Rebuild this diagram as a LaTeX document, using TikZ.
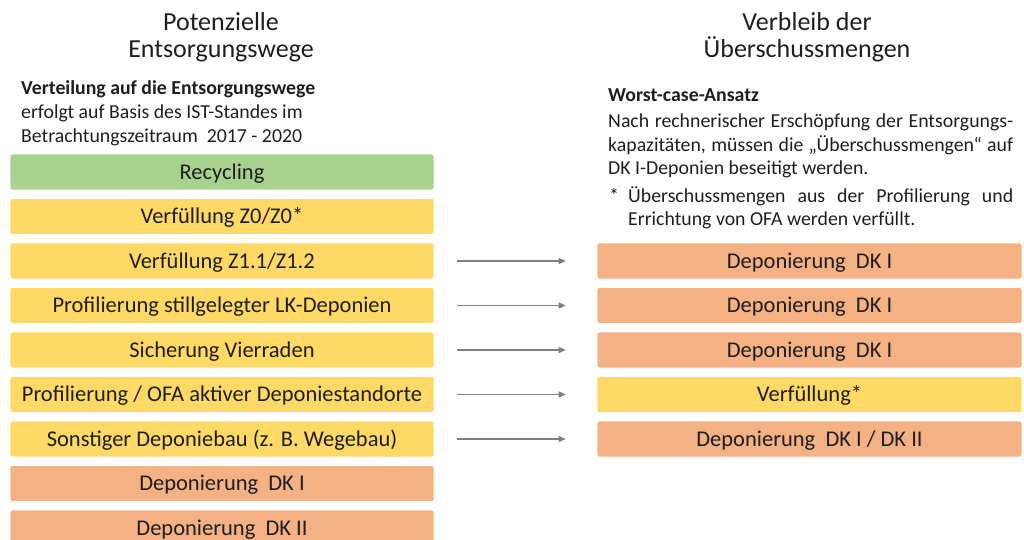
\documentclass[tikz,border=0pt]{standalone}
\usepackage{fontspec}
\setmainfont{Carlito}
\usetikzlibrary{arrows.meta}

\definecolor{recgreen}{HTML}{A9D18E}
\definecolor{fillyellow}{HTML}{FFD966}
\definecolor{depoorange}{HTML}{F4B183}
\definecolor{arrowgray}{HTML}{7F7F7F}
\definecolor{textdark}{HTML}{1E1E1E}

\begin{document}
\begin{tikzpicture}[
		x=1pt,y=-1pt,
		box/.style={
			rectangle,rounded corners=2.5pt,draw=white,line width=0.6pt,
			minimum width=424pt,minimum height=36pt,inner sep=0pt,
			text height=14.5pt,text depth=0pt,
			font=\fontsize{22.5}{26}\selectfont,text=textdark,
		},
		greenbox/.style={box,fill=recgreen},
		yellowbox/.style={box,fill=fillyellow},
		orangebox/.style={box,fill=depoorange},
		heading/.style={
			align=center,inner sep=0pt,text=textdark,
			font=\fontsize{26}{27.5}\selectfont,
		},
		textline/.style={
			anchor=base west,inner sep=0pt,text=textdark,
			font=\fontsize{19.8}{23}\selectfont,
		},
		flow/.style={
			draw=arrowgray,line width=1.3pt,
			-{Triangle[length=7pt,width=6pt]},
		},
	]
	\useasboundingbox (0,0) rectangle (1024,540);

	% headings
	\node[heading] (head-left) at (221,37) {Potenzielle\\Entsorgungswege};
	\node[heading] (head-right) at (807,37) {Verbleib der\\Überschussmengen};

	% text on the left
	\node[textline] (note-l1) at (21,95) {\bfseries Verteilung auf die Entsorgungswege};
	\node[textline] (note-l2) at (21,119) {erfolgt auf Basis des IST-Standes im};
	\node[textline] (note-l3) at (21,143) {Betrachtungszeitraum\ \ 2017 - 2020};

	% text on the right
	\node[textline] (note-r1) at (608,102) {\bfseries Worst-case-Ansatz};
	\node[textline] (note-r2) at (608,128) {\makebox[405pt][s]{Nach rechnerischer Erschöpfung der Entsorgungs-}};
	\node[textline] (note-r3) at (608,152) {\makebox[405pt][s]{kapazitäten, müssen die „Überschussmengen“ auf}};
	\node[textline] (note-r4) at (608,175) {DK I-Deponien beseitigt werden.};
	\node[textline] (star) at (609,202) {*};
	\node[textline] (note-r5) at (628,202) {\makebox[385pt][s]{Überschussmengen aus der Profilierung und}};
	\node[textline] (note-r6) at (628,225) {Errichtung von OFA werden verfüllt.};

	% disposal routes
	\node[greenbox] (l1) at (222,172) {Recycling};
	\node[yellowbox] (l2) at (222,216.5) {Verfüllung Z0/Z0*};
	\node[yellowbox] (l3) at (222,261) {Verfüllung Z1.1/Z1.2};
	\node[yellowbox] (l4) at (222,305.5) {Profilierung stillgelegter LK-Deponien};
	\node[yellowbox] (l5) at (222,350) {Sicherung Vierraden};
	\node[yellowbox] (l6) at (222,394.5) {Profilierung / OFA aktiver Deponiestandorte};
	\node[yellowbox] (l7) at (222,439) {Sonstiger Deponiebau (z. B. Wegebau)};
	\node[orangebox] (l8) at (222,483.5) {Deponierung\ \ DK I};
	\node[orangebox] (l9) at (222,528) {Deponierung\ \ DK II};

	% where the surplus goes
	\node[orangebox,minimum width=425pt] (r3) at (809.5,261) {Deponierung\ \ DK I};
	\node[orangebox,minimum width=425pt] (r4) at (809.5,305.5) {Deponierung\ \ DK I};
	\node[orangebox,minimum width=425pt] (r5) at (809.5,350) {Deponierung\ \ DK I};
	\node[yellowbox,minimum width=425pt] (r6) at (809.5,394.5) {Verfüllung*};
	\node[orangebox,minimum width=425pt] (r7) at (809.5,439) {Deponierung\ \ DK I / DK II};

	\foreach \i in {3,...,7}
	\draw[flow] ([xshift=23pt]l\i.east) -- ([xshift=-31pt]r\i.west);

\end{tikzpicture}
\end{document}
